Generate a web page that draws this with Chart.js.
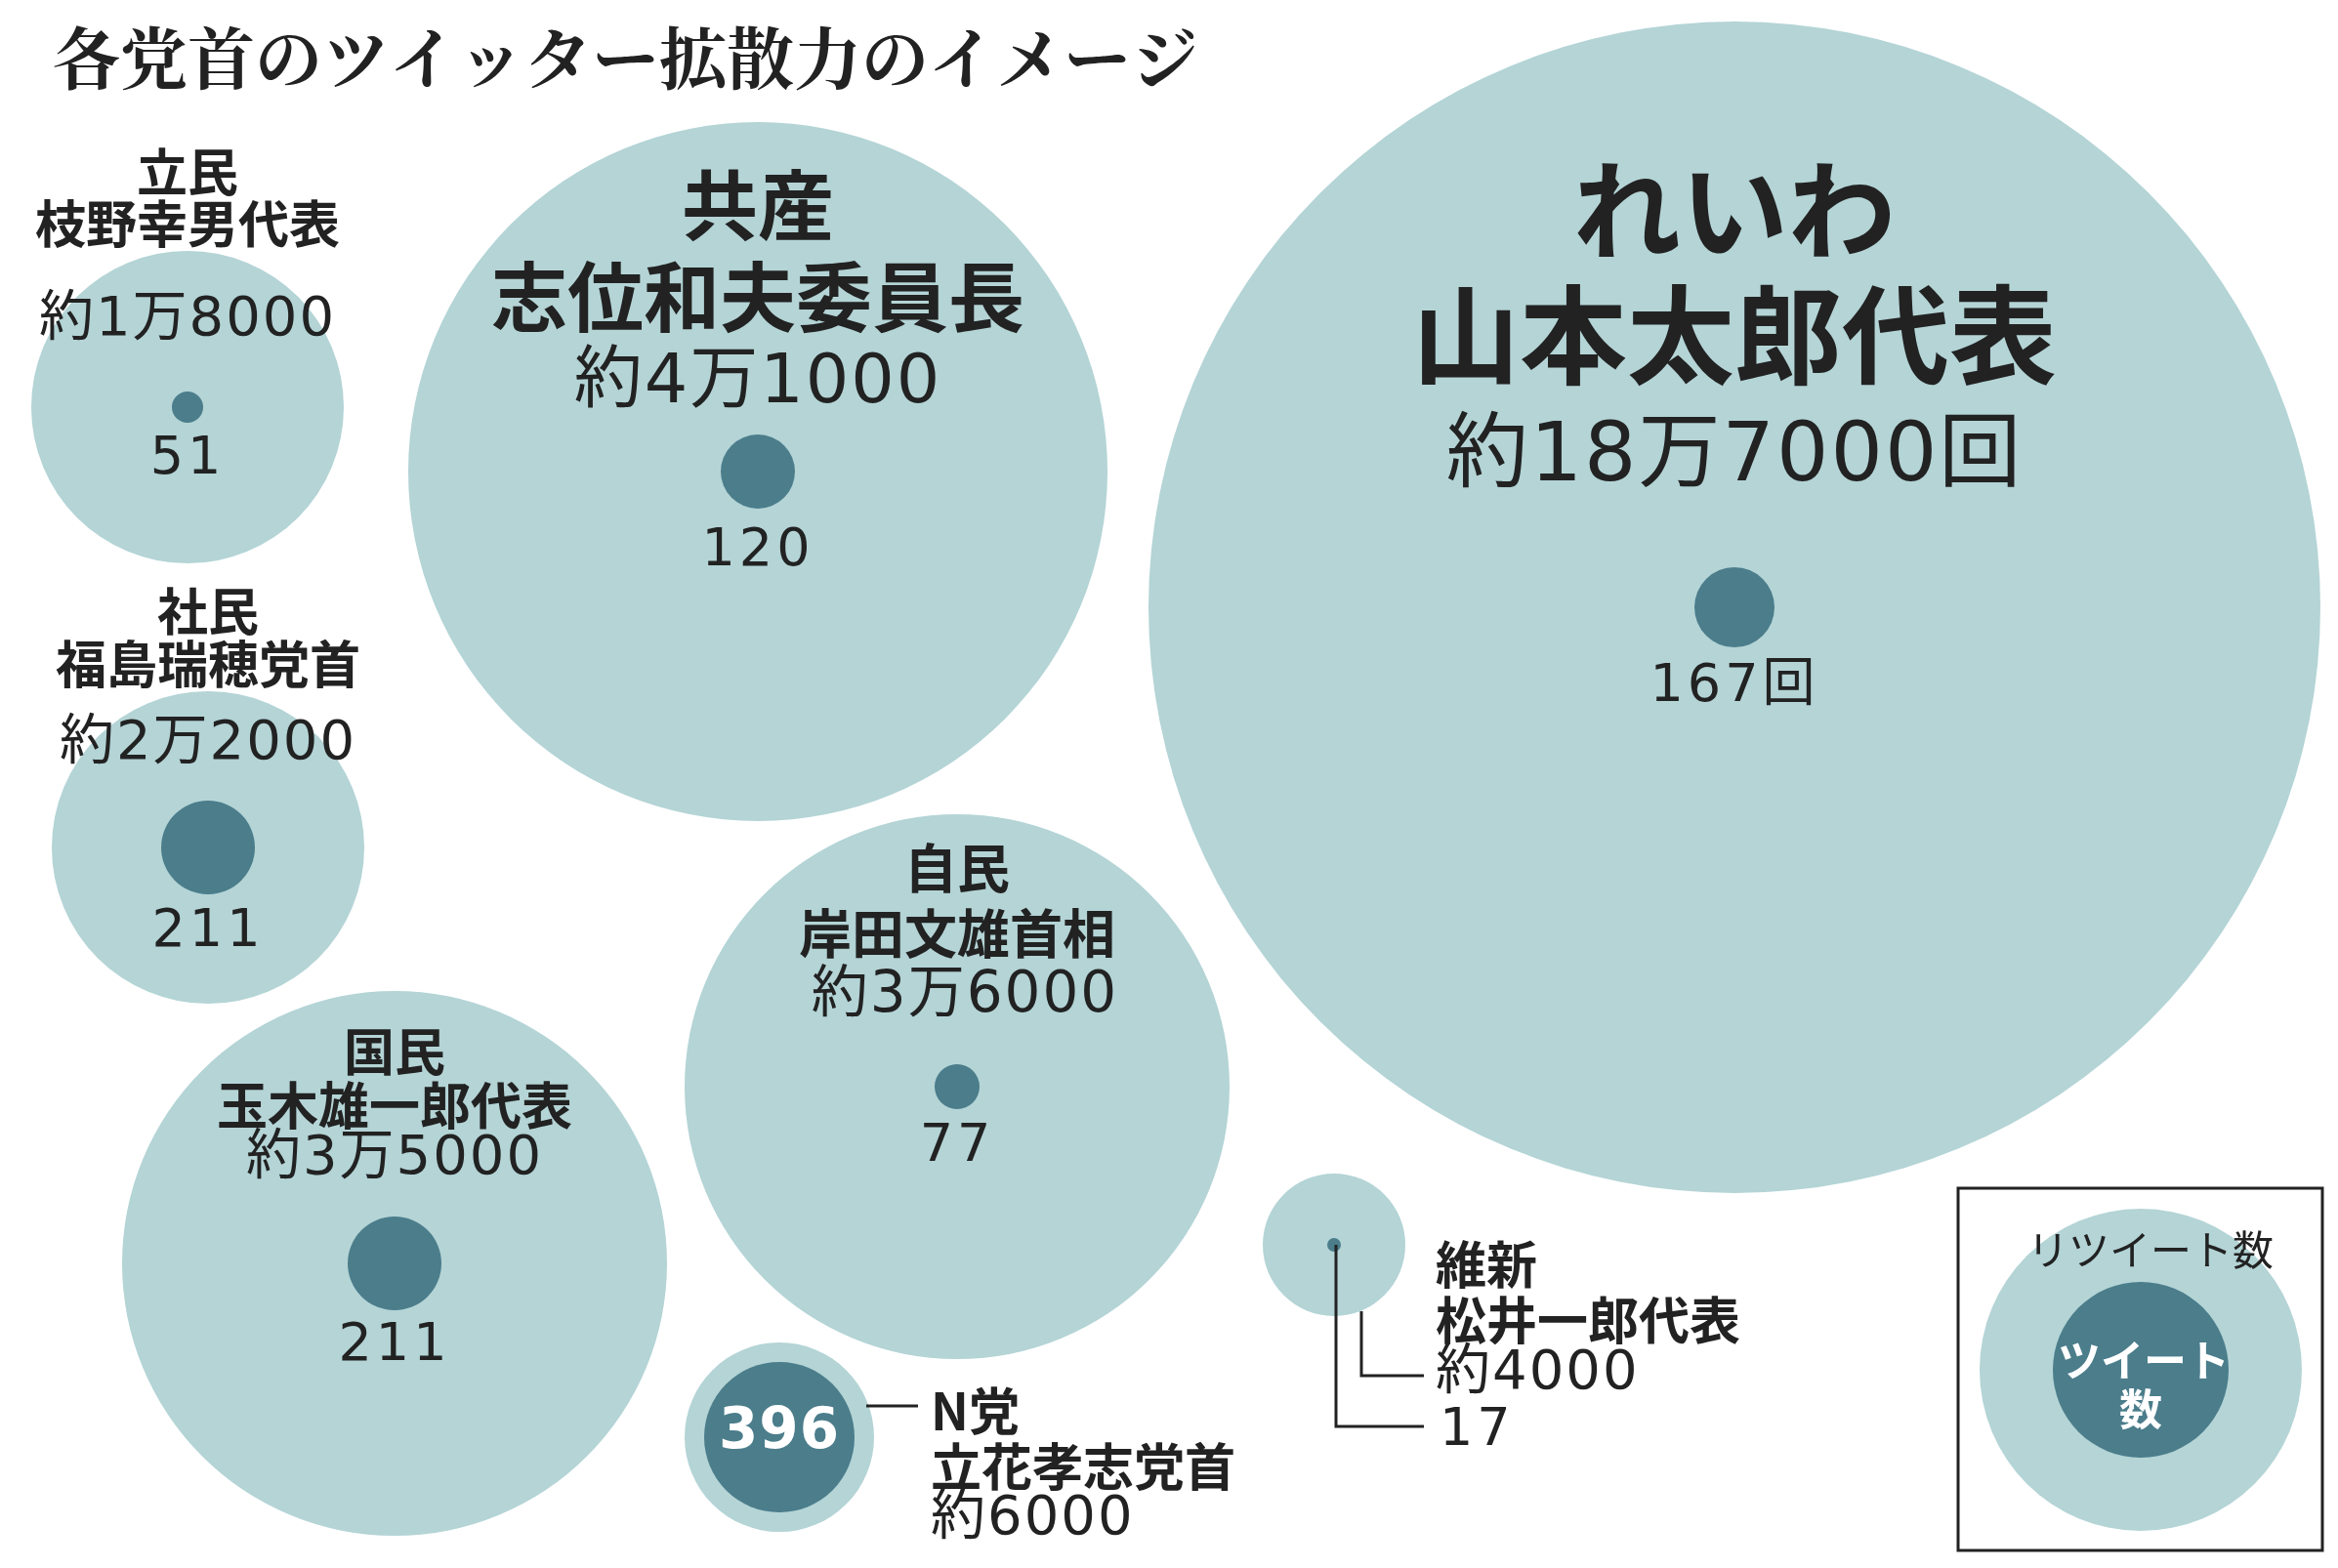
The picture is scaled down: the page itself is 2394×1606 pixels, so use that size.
<!DOCTYPE html>
<html lang="ja">
<head>
<meta charset="utf-8">
<title>各党首のツイッター拡散力のイメージ</title>
<script src="https://cdn.jsdelivr.net/npm/chart.js@4.4.1/dist/chart.umd.min.js"></script>
<style>
  html, body { margin: 0; padding: 0; background: #fff; overflow: hidden; }
  #chartKakusan { position: absolute; left: 0; top: 0; width: 2394px; height: 1606px; display: block; }
</style>
</head>
<body>
<canvas id="chartKakusan" width="2394" height="1606"></canvas>
<script>
// ---- datos ----
const TITLE = "各党首のツイッター拡散力のイメージ";
const parties = ["立民", "共産", "れいわ", "社民", "自民", "国民", "N党", "維新"];
const leaders = ["枝野幸男代表", "志位和夫委員長", "山本太郎代表", "福島瑞穂党首", "岸田文雄首相", "玉木雄一郎代表", "立花孝志党首", "松井一郎代表"];
const retweets = [18000, 41000, 187000, 22000, 36000, 35000, 6000, 4000];
const retweetLabels = ["約1万8000", "約4万1000", "約18万7000回", "約2万2000", "約3万6000", "約3万5000", "約6000", "約4000"];
const tweets = [51, 120, 167, 211, 77, 211, 396, 17];
const tweetLabels = ["51", "120", "167回", "211", "77", "211", "396", "17"];
// bubble centres and radii (image units)
const bubbleX = [192, 776, 1776, 213, 980, 404, 798, 1366];
const bubbleY = [417, 483, 622, 868, 1113, 1294, 1472, 1275];
const retweetR = [160, 358, 600, 160, 279, 279, 97, 73];
const tweetR = [16, 38, 41, 48, 23, 48, 77, 7];
// leyenda
const legendLabels = ["リツイート数", "ツイート", "数"];
const legendX = 2192, legendY = 1403, legendOuterR = 165, legendInnerR = 90;

const LIGHT = "#b4d4d6";
const DARK = "#4b7d8b";
const INK = "#222222";
const SANS = '"Noto Sans CJK JP", sans-serif';
const NUM = '"DejaVu Sans", "Noto Sans CJK JP", sans-serif';

// texto de cada burbuja: x, y de cada línea, tamaños
const labelLayout = [
  { align: "center", x: 192, yP: 176, yN: 229, yV: 328, yT: 471, b: 52, v: 56, t: 54 },
  { align: "center", x: 776, yP: 210, yN: 304, yV: 394, yT: 565, b: 78, v: 70, t: 54 },
  { align: "center", x: 1776, yP: 215, yN: 343, yV: 470, yT: 704, b: 110, v: 84, t: 54 },
  { align: "center", x: 213, yP: 626, yN: 680, yV: 762, yT: 955, b: 52, v: 56, t: 54 },
  { align: "center", x: 980, yP: 889, yN: 956, yV: 1021, yT: 1175, b: 54, v: 58, t: 54, vx: 988 },
  { align: "center", x: 404, yP: 1077, yN: 1132, yV: 1187, yT: 1379, b: 52, v: 56, t: 54 },
  { align: "left", x: 953, yP: 1445, yN: 1502, yV: 1556, yT: 1468, b: 52, v: 56, t: 58, tx: 798, white: true },
  { align: "left", x: 1470, yP: 1295, yN: 1352, yV: 1407, yT: 1466, b: 52, v: 56, t: 54, tx: 1474, tAlign: "left" },
];
const leaderLines = [
  [[887, 1440], [940, 1440]],
  [[1368, 1275], [1368, 1461], [1458, 1461]],
  [[1394, 1343], [1394, 1409], [1458, 1409]],
];

function txt(ctx, s, x, y, font, color, align, spacing) {
  ctx.font = font;
  ctx.fillStyle = color;
  ctx.textAlign = align || "center";
  ctx.textBaseline = "middle";
  ctx.letterSpacing = (spacing || 0) + "px";
  ctx.fillText(s, x, y);
}

const textos = {
  id: "textos",
  afterDatasetsDraw(chart) {
    const ctx = chart.ctx;
    const sx = chart.scales.x, sy = chart.scales.y;
    const X = (v) => sx.getPixelForValue(v);
    const Y = (v) => sy.getPixelForValue(v);
    ctx.save();

    // título
    txt(ctx, TITLE, X(54), Y(60), 'bold 69px "Noto Serif CJK JP", ' + SANS, INK, "left", 0);

    // líneas guía
    ctx.strokeStyle = INK;
    ctx.lineWidth = 3;
    leaderLines.forEach((pts) => {
      ctx.beginPath();
      pts.forEach((p, i) => (i ? ctx.lineTo(X(p[0]), Y(p[1])) : ctx.moveTo(X(p[0]), Y(p[1]))));
      ctx.stroke();
    });

    // etiquetas
    parties.forEach((p, i) => {
      const L = labelLayout[i];
      txt(ctx, p, X(L.x), Y(L.yP), "bold " + L.b + "px " + SANS, INK, L.align);
      txt(ctx, leaders[i], X(L.x), Y(L.yN), "bold " + L.b + "px " + SANS, INK, L.align);
      txt(ctx, retweetLabels[i], X(L.vx || L.x), Y(L.yV), L.v + "px " + NUM, INK, L.align, 2);
      if (L.white) {
        txt(ctx, tweetLabels[i], X(L.tx), Y(L.yT), "bold " + L.t + "px " + NUM, "#ffffff", "center", 1);
      } else {
        txt(ctx, tweetLabels[i], X(L.tx || L.x), Y(L.yT), L.t + "px " + NUM, INK, L.tAlign || "center", 4);
      }
    });

    // leyenda
    ctx.lineWidth = 3;
    ctx.strokeRect(X(2005), Y(1217), X(2378) - X(2005), Y(1588) - Y(1217));
    txt(ctx, legendLabels[0], X(2202), Y(1280), "42px " + SANS, INK, "center");
    txt(ctx, legendLabels[1], X(2195), Y(1393), "bold 44px " + SANS, "#ffffff", "center");
    txt(ctx, legendLabels[2], X(2192), Y(1443), "bold 44px " + SANS, "#ffffff", "center");
    ctx.restore();
  },
};

const outerPts = bubbleX.map((x, i) => ({ x, y: bubbleY[i], r: retweetR[i] }));
const innerPts = bubbleX.map((x, i) => ({ x, y: bubbleY[i], r: tweetR[i] }));
outerPts.push({ x: legendX, y: legendY, r: legendOuterR });
innerPts.push({ x: legendX, y: legendY, r: legendInnerR });

new Chart(document.getElementById("chartKakusan"), {
  type: "bubble",
  data: {
    datasets: [
      { label: "リツイート数", data: outerPts, backgroundColor: LIGHT, borderWidth: 0, order: 2, clip: false },
      { label: "ツイート数", data: innerPts, backgroundColor: DARK, borderWidth: 0, order: 1, clip: false },
    ],
  },
  options: {
    responsive: false,
    maintainAspectRatio: false,
    devicePixelRatio: 1,
    animation: false,
    events: [],
    layout: { autoPadding: false, padding: 0 },
    elements: { point: { hoverRadius: 0, hitRadius: 0, borderWidth: 0 } },
    plugins: { legend: { display: false }, tooltip: { enabled: false } },
    scales: {
      x: { type: "linear", min: 0, max: 2394, display: false },
      y: { type: "linear", min: 0, max: 1606, reverse: true, display: false },
    },
  },
  plugins: [textos],
});
</script>
</body>
</html>
